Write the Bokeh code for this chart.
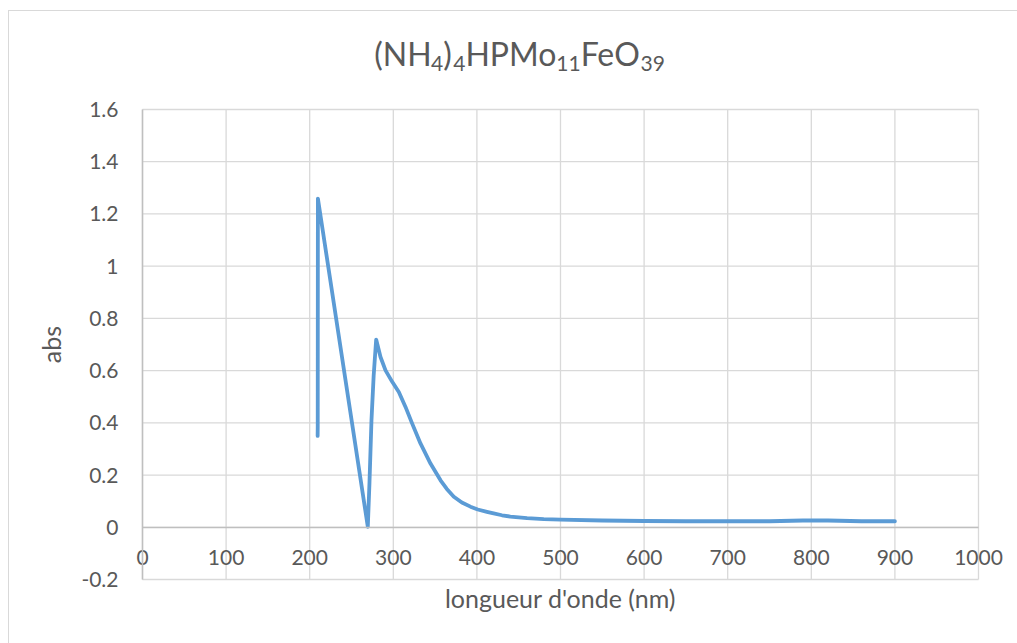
from bokeh.plotting import figure
from bokeh.models import Range1d, FixedTicker, Label, LinearAxis
from bokeh.embed import file_html
from bokeh.resources import INLINE

# ---- data ----
wavelength = [209.5, 209.6, 209.8, 269.5, 271.5, 273.9, 276.5, 279.5, 284.7,
              290.7, 298.7, 306.6, 314.6, 322.6, 332.5, 344.5, 356.5, 364, 372.4,
              382, 392.3, 401, 412, 420, 430, 440, 460, 480, 500, 550, 600, 650, 700,
              750, 790, 820, 860, 900]
absorbance = [0.35, 0.385, 1.259, 0.002, 0.17, 0.41, 0.58, 0.719, 0.652,
              0.601, 0.557, 0.518, 0.461, 0.397, 0.321, 0.244, 0.180, 0.147, 0.117,
              0.095, 0.079, 0.068, 0.059, 0.053, 0.046, 0.041, 0.035, 0.031, 0.029,
              0.026, 0.024, 0.023, 0.023, 0.023, 0.026, 0.026, 0.023, 0.023]

x_ticks = [0, 100, 200, 300, 400, 500, 600, 700, 800, 900, 1000]
y_ticks = [-0.2, 0, 0.2, 0.4, 0.6, 0.8, 1, 1.2, 1.4, 1.6]
y_tick_labels = ["-0.2", "0", "0.2", "0.4", "0.6", "0.8", "1", "1.2", "1.4", "1.6"]

title_parts = ["(NH", "4", ")", "4", "HPMo", "11", "FeO", "39"]
title_is_sub = [False, True, False, True, False, True, False, True]

x_label = "longueur d'onde (nm)"
y_label = "abs"

FONT = "Lato"
TEXT = "#595959"
LINE = "#5B9BD5"
GRID = "#D9D9D9"
AXIS = "#BFBFBF"

# ---- page geometry (pixels) ----
PAGE_W, PAGE_H = 1017, 643
CANVAS_L, CANVAS_T = 9, 11
FRAME_L, FRAME_R, FRAME_T, FRAME_B = 142, 978, 109, 579
X0, X1, Y0, Y1 = 0, 1000, -0.2, 1.6
SX = (FRAME_R - FRAME_L) / (X1 - X0)
SY = (FRAME_B - FRAME_T) / (Y1 - Y0)


def dx(px):
    return X0 + (px - FRAME_L) / SX


def dy(py):
    return Y0 + (FRAME_B - py) / SY


p = figure(width=PAGE_W - CANVAS_L, height=PAGE_H - CANVAS_T,
           x_range=Range1d(dx(CANVAS_L), dx(PAGE_W)),
           y_range=Range1d(dy(PAGE_H), dy(CANVAS_T)),
           output_backend="svg", toolbar_location=None,
           x_axis_location=None, y_axis_location=None,
           min_border=0, min_border_left=0, min_border_right=0,
           min_border_top=0, min_border_bottom=0)
p.margin = (CANVAS_T, 0, 0, CANVAS_L)
p.styles = {"outline": "1px solid #D9D9D9"}
p.background_fill_color = "white"
p.border_fill_color = "white"
p.outline_line_color = None
p.grid.visible = False

# grid lines of the plot area, drawn from the tick arrays
n_x, n_y = len(x_ticks), len(y_ticks)
p.segment(x0=x_ticks, y0=[Y0] * n_x, x1=x_ticks, y1=[Y1] * n_x,
          line_color=GRID, line_width=1.3)
p.segment(x0=[X0] * n_y, y0=y_ticks, x1=[X1] * n_y, y1=y_ticks,
          line_color=GRID, line_width=1.3)

p.line(wavelength, absorbance, line_color=LINE, line_width=3.8,
       line_join="round", line_cap="round")

# x axis crossing at y = 0
xa = LinearAxis(ticker=FixedTicker(ticks=x_ticks), fixed_location=0, bounds=(X0, X1))
xa.axis_line_color = AXIS
xa.axis_line_width = 1.5
xa.major_tick_line_color = None
xa.minor_tick_line_color = None
xa.major_tick_out = 0
xa.major_tick_in = 0
xa.major_label_standoff = 23
xa.major_label_text_font = FONT
xa.major_label_text_font_size = "21px"
xa.major_label_text_color = TEXT
xa.axis_label = x_label
xa.axis_label_text_font = FONT
xa.axis_label_text_font_size = "25px"
xa.axis_label_text_font_style = "normal"
xa.axis_label_text_color = TEXT
xa.axis_label_standoff = 14
p.add_layout(xa, "below")

# y axis crossing at x = 0
ya = LinearAxis(ticker=FixedTicker(ticks=y_ticks), fixed_location=0, bounds=(Y0, Y1))
ya.major_label_overrides = dict(zip(y_ticks, y_tick_labels))
ya.axis_line_color = AXIS
ya.axis_line_width = 1.5
ya.major_tick_line_color = None
ya.minor_tick_line_color = None
ya.major_tick_out = 0
ya.major_tick_in = 0
ya.major_label_standoff = 24
ya.major_label_text_font = FONT
ya.major_label_text_font_size = "21px"
ya.major_label_text_color = TEXT
ya.axis_label = y_label
ya.axis_label_text_font = FONT
ya.axis_label_text_font_size = "25px"
ya.axis_label_text_font_style = "normal"
ya.axis_label_text_color = TEXT
ya.axis_label_standoff = 12
p.add_layout(ya, "left")

# chart title with subscripts, pieces laid out one after another
MAIN_PX, SUB_PX = 32, 21
piece_em = [1.78, 0.58, 0.31, 0.58, 2.84, 1.16, 1.87, 1.16]   # approx. Lato advance widths
piece_w = [em * (SUB_PX if sub else MAIN_PX) for em, sub in zip(piece_em, title_is_sub)]
TITLE_CX, TITLE_BASE, SUB_BASE = 519, 53, 63
left = TITLE_CX - sum(piece_w) / 2
for part, sub, w in zip(title_parts, title_is_sub, piece_w):
    p.add_layout(Label(x=dx(left), y=dy(SUB_BASE if sub else TITLE_BASE), text=part,
                       text_font=FONT, text_font_size=f"{SUB_PX if sub else MAIN_PX}px",
                       text_color=TEXT, text_baseline="alphabetic", text_align="left"))
    left += w

open("out.html", "w").write(file_html(p, INLINE))
